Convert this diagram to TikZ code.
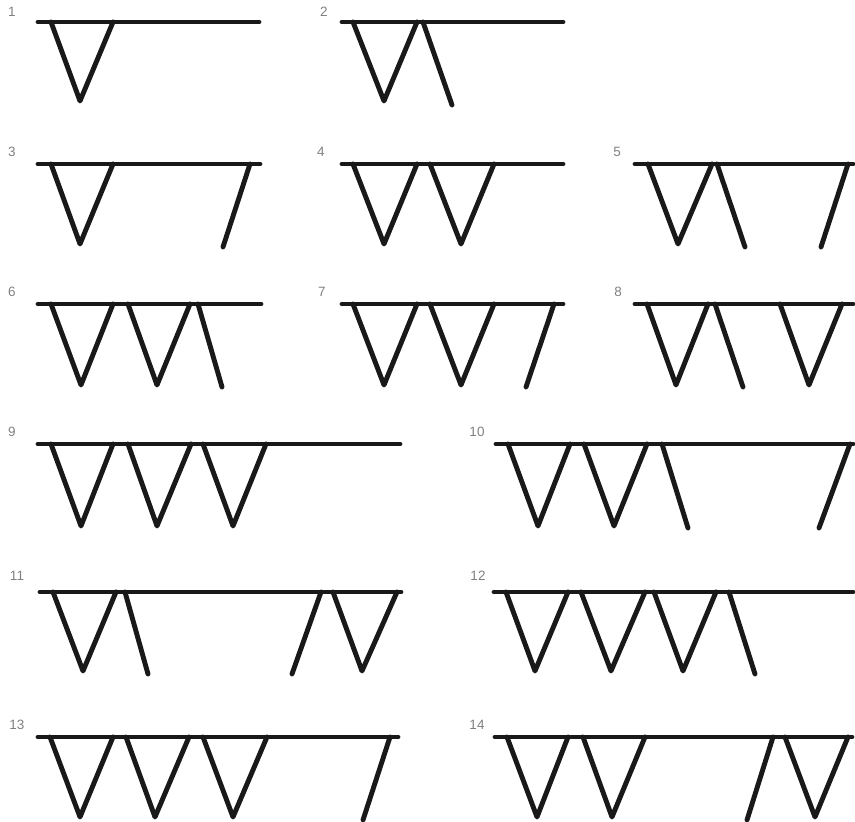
\documentclass[tikz,border=0pt]{standalone}
\usepackage{fontspec}
\setmainfont{Liberation Sans}
\begin{document}
\begin{tikzpicture}[x=1pt,y=-1pt,
  bar/.style={line width=4.9pt,line cap=round,line join=round,draw=black!90},
  lbl/.style={text=black!50,font=\fontsize{13.5}{15}\selectfont,inner sep=0pt}]
\useasboundingbox (0,0) rectangle (855,822);
% V pennant: left top, bottom x, right top, top y, bottom y
\newcommand\pnt[5]{\draw[bar] (#1,#4) -- (#2,#5) -- (#3,#4);}
\newcommand\stk[4]{\draw[bar] (#1,#3) -- (#2,#4);}
% labels
\node[lbl] (l1) at (12,12) {1};
\node[lbl] (l2) at (324,12) {2};
\node[lbl] (l3) at (12,152) {3};
\node[lbl] (l4) at (321,152) {4};
\node[lbl] (l5) at (617,152) {5};
\node[lbl] (l6) at (12,292) {6};
\node[lbl] (l7) at (322,292) {7};
\node[lbl] (l8) at (618,292) {8};
\node[lbl] (l9) at (12,432) {9};
\node[lbl] (l10) at (477,432) {10};
\node[lbl] (l11) at (17,576) {11};
\node[lbl] (l12) at (478,576) {12};
\node[lbl] (l13) at (17,725) {13};
\node[lbl] (l14) at (477,725) {14};
% 1
\draw[bar] (38,22) -- (259,22);
\pnt{51}{80}{113}{22}{101}
% 2
\draw[bar] (342,22) -- (563,22);
\pnt{353}{384}{417}{22}{101}
\stk{423}{452}{22}{105}
% 3
\draw[bar] (38,164) -- (260,164);
\pnt{51}{80}{113}{164}{244}
\stk{250}{223}{164}{247}
% 4
\draw[bar] (342,164) -- (563,164);
\pnt{353}{384}{417}{164}{244}
\pnt{430}{461}{494}{164}{244}
% 5
\draw[bar] (635,164) -- (853,164);
\pnt{648}{678}{712}{164}{244}
\stk{717}{745}{164}{247}
\stk{848}{821}{164}{247}
% 6
\draw[bar] (38,304) -- (261,304);
\pnt{51}{81}{113}{304}{385}
\pnt{128}{157}{190}{304}{385}
\stk{198}{222}{304}{387}
% 7
\draw[bar] (342,304) -- (563,304);
\pnt{353}{384}{417}{304}{385}
\pnt{430}{461}{494}{304}{385}
\stk{554}{526}{304}{387}
% 8
\draw[bar] (635,304) -- (853,304);
\pnt{647}{676}{708}{304}{385}
\stk{715}{743}{304}{387}
\pnt{780}{809}{842}{304}{385}
% 9
\draw[bar] (38,444) -- (400,444);
\pnt{51}{81}{113}{444}{526}
\pnt{128}{157}{191}{444}{526}
\pnt{203}{233}{266}{444}{526}
% 10
\draw[bar] (496,444) -- (853,444);
\pnt{508}{538}{570}{444}{526}
\pnt{584}{614}{647}{444}{526}
\stk{662}{688}{444}{528}
\stk{850}{819}{444}{528}
% 11
\draw[bar] (40,592) -- (401,592);
\pnt{53}{83}{116}{592}{671}
\stk{125}{148}{592}{674}
\stk{321}{292}{592}{674}
\pnt{333}{362}{397}{592}{671}
% 12
\draw[bar] (494,592) -- (853,592);
\pnt{506}{535}{568}{592}{671}
\pnt{581}{611}{645}{592}{671}
\pnt{654}{683}{716}{592}{671}
\stk{729}{755}{592}{674}
% 13
\draw[bar] (38,737) -- (398,737);
\pnt{50}{80}{113}{737}{817}
\pnt{126}{155}{189}{737}{817}
\pnt{203}{233}{267}{737}{817}
\stk{390}{363}{737}{820}
% 14
\draw[bar] (495,737) -- (852,737);
\pnt{507}{537}{568}{737}{817}
\pnt{583}{612}{645}{737}{817}
\stk{773}{747}{737}{820}
\pnt{785}{815}{848}{737}{817}
\end{tikzpicture}
\end{document}
